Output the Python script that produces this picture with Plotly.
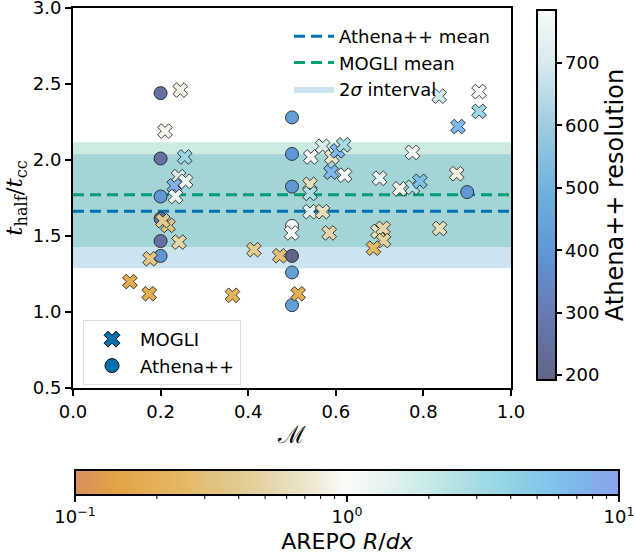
import numpy as np
import plotly.graph_objects as go

# ---------------- data ----------------
mogli_mach = [0.245, 0.210, 0.255, 0.241, 0.257, 0.231, 0.234, 0.217, 0.205, 0.242, 0.176, 0.130, 0.174,
              0.543, 0.570, 0.591, 0.604, 0.618, 0.589, 0.620, 0.541, 0.541, 0.541, 0.570, 0.499, 0.585,
              0.413, 0.472, 0.514, 0.364,
              0.836, 0.927, 0.927, 0.879, 0.775, 0.700, 0.746, 0.775, 0.792, 0.876,
              0.696, 0.708, 0.709, 0.686, 0.837]
mogli_thalf = [2.46, 2.19, 2.02, 1.89, 1.86, 1.83, 1.76, 1.57, 1.60, 1.46, 1.35, 1.20, 1.12,
               2.02, 2.09, 2.02, 2.06, 2.10, 1.92, 1.90, 1.84, 1.78, 1.66, 1.66, 1.52, 1.52,
               1.41, 1.37, 1.12, 1.11,
               2.42, 2.45, 2.32, 2.22, 2.05, 1.88, 1.81, 1.82, 1.86, 1.91,
               1.53, 1.55, 1.47, 1.42, 1.55]
mogli_rdx = [0.85, 0.9, 3.5, 1.6, 1.2, 8.0, 1.3, 0.35, 0.4, 0.5, 0.35, 0.17, 0.18,
             1.1, 1.6, 0.7, 7.0, 3.0, 7.0, 1.05, 0.6, 2.8, 1.5, 0.6, 0.95, 0.5,
             0.4, 0.3, 0.2, 0.22,
             1.8, 1.05, 3.5, 7.0, 1.05, 1.3, 0.9, 2.5, 6.0, 0.8,
             0.6, 0.5, 0.45, 0.25, 0.6]

athena_mach = [0.2, 0.2, 0.2, 0.2, 0.2, 0.2, 0.5, 0.5, 0.5, 0.5, 0.5, 0.5, 0.5, 0.9]
athena_thalf = [2.44, 2.01, 1.76, 1.615, 1.467, 1.369, 2.28, 2.04, 1.825, 1.566, 1.369, 1.26, 1.045, 1.789]
athena_res = [256, 256, 400, 256, 256, 400, 430, 400, 400, 768, 192, 430, 430, 400]

athena_mean, athena_2sigma = 1.663, 0.375
mogli_mean, mogli_2sigma = 1.772, 0.344

x_ticks = [0.0, 0.2, 0.4, 0.6, 0.8, 1.0]
y_ticks = [0.5, 1.0, 1.5, 2.0, 2.5, 3.0]
res_ticks = [200, 300, 400, 500, 600, 700]
rdx_ticks = [0.1, 1.0, 10.0]
rdx_tick_text = ["10<sup>−1</sup>", "10<sup>0</sup>", "10<sup>1</sup>"]

# ---------------- styles ----------------
W, H = 635, 555
ML, MR, MT, MB = 73, 124, 8, 167
PW, PH = W - ML - MR, H - MT - MB
FONT = "DejaVu Sans"
BLUE = "#0072B2"
GREEN = "#009E73"

arepo_scale = [
    [0.0, "#d98f5f"], [0.08, "#e4a443"], [0.2, "#e3b965"], [0.3, "#e2cb90"],
    [0.4, "#e8e0bf"], [0.5, "#fbfbf9"], [0.6, "#dcf0ee"], [0.7, "#b3e3e3"],
    [0.8, "#91d3e6"], [0.9, "#7bbfeb"], [1.0, "#8aa2ee"]]
athena_scale = [
    [0.0, "#5e6687"], [0.17, "#6a78b0"], [0.34, "#5f96d6"], [0.5, "#6bb0dc"],
    [0.68, "#9ccbe0"], [0.85, "#d6e9ee"], [1.0, "#f7fbfb"]]
res_min, res_max = 192, 785

fig = go.Figure()

# bands
fig.add_trace(go.Scatter(
    x=[0, 1, 1, 0], y=[athena_mean - athena_2sigma] * 2 + [athena_mean + athena_2sigma] * 2,
    fill="toself", fillcolor="rgba(0,114,178,0.2)", line=dict(width=0),
    mode="lines", name="2<i>σ</i> interval", legend="legend", legendrank=3, hoverinfo="skip"))
fig.add_trace(go.Scatter(
    x=[0, 1, 1, 0], y=[mogli_mean - mogli_2sigma] * 2 + [mogli_mean + mogli_2sigma] * 2,
    fill="toself", fillcolor="rgba(0,158,115,0.2)", line=dict(width=0),
    mode="lines", showlegend=False, hoverinfo="skip"))

# mean lines
fig.add_trace(go.Scatter(x=[0, 1], y=[athena_mean] * 2, mode="lines",
                         line=dict(color=BLUE, width=3, dash="11px,6px"),
                         name="Athena++ mean", legend="legend", legendrank=1))
fig.add_trace(go.Scatter(x=[0, 1], y=[mogli_mean] * 2, mode="lines",
                         line=dict(color=GREEN, width=3, dash="11px,6px"),
                         name="MOGLI mean", legend="legend", legendrank=2))

# colorbar geometry
cb_v_left, cb_v_top, cb_v_bot, cb_v_w = 537, 10, 380, 19
cb_h_left, cb_h_right, cb_h_top, cb_h_th = 75, 619, 470, 25

def px2x(px):
    return (px - ML) / PW

def py2y(py):
    return 1 - (py - MT) / PH

# Athena circles
fig.add_trace(go.Scatter(
    x=athena_mach, y=athena_thalf, mode="markers", showlegend=False,
    marker=dict(symbol="circle", size=13, color=athena_res, colorscale=athena_scale,
                cmin=res_min, cmax=res_max,
                line=dict(color="rgba(30,30,30,0.85)", width=1),
                showscale=True,
                colorbar=dict(
                    orientation="v", x=px2x(cb_v_left), xanchor="left", xpad=0,
                    y=py2y((cb_v_top + cb_v_bot) / 2), yanchor="middle", ypad=0,
                    lenmode="pixels", len=cb_v_bot - cb_v_top,
                    thicknessmode="pixels", thickness=cb_v_w,
                    outlinewidth=2, outlinecolor="black",
                    tickvals=res_ticks, ticks="outside", ticklen=5, tickwidth=1.5,
                    tickcolor="black", tickfont=dict(family=FONT, size=18, color="black"),
                    title=dict(text="Athena++ resolution", side="right",
                               font=dict(family=FONT, size=24, color="black"))))))

# MOGLI crosses
fig.add_trace(go.Scatter(
    x=mogli_mach, y=mogli_thalf, mode="markers", showlegend=False,
    marker=dict(symbol="x", size=13, color=np.log10(mogli_rdx), colorscale=arepo_scale,
                cmin=-1, cmax=1,
                line=dict(color="rgba(30,30,30,0.85)", width=1),
                showscale=True,
                colorbar=dict(
                    orientation="h", x=px2x((cb_h_left + cb_h_right) / 2), xanchor="center", xpad=0,
                    y=py2y(cb_h_top), yanchor="top", ypad=0,
                    lenmode="pixels", len=cb_h_right - cb_h_left,
                    thicknessmode="pixels", thickness=cb_h_th,
                    outlinewidth=2, outlinecolor="black",
                    tickvals=list(np.log10(rdx_ticks)), ticktext=rdx_tick_text,
                    ticks="outside", ticklen=6, tickwidth=1.5, tickcolor="black",
                    tickfont=dict(family=FONT, size=18, color="black"),
                    title=dict(text="AREPO <i>R</i>/<i>dx</i>", side="bottom",
                               font=dict(family=FONT, size=22, color="black"))))))

# legend proxies for markers
fig.add_trace(go.Scatter(x=[None], y=[None], mode="markers", name="MOGLI", legend="legend2",
                         marker=dict(symbol="x", size=14, color=BLUE, line=dict(color="black", width=1))))
fig.add_trace(go.Scatter(x=[None], y=[None], mode="markers", name="Athena++", legend="legend2",
                         marker=dict(symbol="circle", size=14, color=BLUE, line=dict(color="black", width=1))))

# minor ticks for log colorbar
shapes = []
cb_h_bot = cb_h_top + cb_h_th
for dec in [-1, 0]:
    for k in range(2, 10):
        v = dec + np.log10(k)
        px = cb_h_left + (v + 1) / 2 * (cb_h_right - cb_h_left)
        shapes.append(dict(type="line", xref="paper", yref="paper",
                           x0=px2x(px), x1=px2x(px), y0=py2y(cb_h_bot + 1), y1=py2y(cb_h_bot + 4),
                           line=dict(color="black", width=1)))

axis_common = dict(showline=True, linecolor="black", linewidth=2, mirror=True,
                   ticks="outside", ticklen=6, tickwidth=1.5, tickcolor="black",
                   showgrid=False, zeroline=False, ticklabeloverflow="allow",
                   tickfont=dict(family=FONT, size=18, color="black"), tickformat=".1f")

fig.update_layout(
    width=W, height=H, margin=dict(l=ML, r=MR, t=MT, b=MB, autoexpand=False),
    plot_bgcolor="white", paper_bgcolor="white",
    xaxis=dict(range=[0, 1], tickvals=x_ticks,
               title=dict(text="ℳ", font=dict(family="DejaVu Serif", size=24, color="black"), standoff=6),
               **axis_common),
    yaxis=dict(range=[0.5, 3.0], tickvals=y_ticks,
               title=dict(text="<i>t</i><sub>half</sub>/<i>t</i><sub>cc</sub>",
                          font=dict(family="DejaVu Serif", size=23, color="black"), standoff=4),
               **axis_common),
    legend=dict(x=px2x(289), y=py2y(18), xanchor="left", yanchor="top",
                bgcolor="rgba(0,0,0,0)", font=dict(family=FONT, size=18, color="black"),
                itemwidth=40, tracegroupgap=0),
    legend2=dict(x=px2x(83), y=py2y(320), xanchor="left", yanchor="top",
                 bgcolor="white", bordercolor="#dddddd", borderwidth=1,
                 itemwidth=46,
                 font=dict(family=FONT, size=18, color="black")),
    shapes=shapes,
    showlegend=True,
)

fig.write_html("out.html")
